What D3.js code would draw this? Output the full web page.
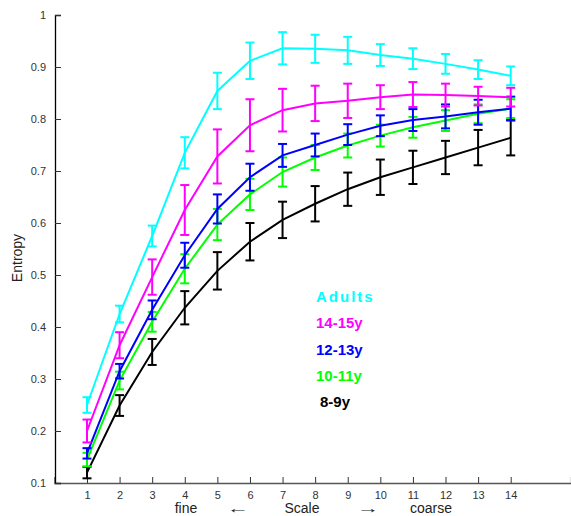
<!DOCTYPE html>
<html><head><meta charset="utf-8">
<script src="https://cdn.jsdelivr.net/npm/d3@7/dist/d3.min.js"></script>
<style>body{margin:0;background:#fff}svg{display:block}text{font-family:"Liberation Sans",Arial,sans-serif}</style>
</head><body><svg id="c" width="571" height="516"></svg>
<script>
const scales = [1,2,3,4,5,6,7,8,9,10,11,12,13,14];
const seriesNames = ["Adults","14-15y","12-13y","10-11y","8-9y"];
const seriesColors = ["#00ffff","#ff00ff","#0000ff","#00ff00","#000000"];
const adultsMean = [0.25,0.425,0.575,0.735,0.854,0.912,0.936,0.935,0.932,0.923,0.916,0.906,0.895,0.883];
const adultsErr  = [0.015,0.016,0.02,0.03,0.035,0.035,0.031,0.027,0.026,0.021,0.02,0.019,0.018,0.018];
const y1415Mean = [0.2,0.365,0.496,0.625,0.728,0.788,0.817,0.83,0.835,0.842,0.847,0.846,0.844,0.842];
const y1415Err  = [0.022,0.025,0.034,0.048,0.052,0.05,0.041,0.034,0.033,0.023,0.024,0.022,0.018,0.018];
const y1213Mean = [0.157,0.315,0.433,0.538,0.627,0.688,0.73,0.75,0.77,0.787,0.798,0.805,0.813,0.82];
const y1213Err  = [0.01,0.014,0.018,0.024,0.028,0.026,0.022,0.022,0.02,0.02,0.021,0.023,0.024,0.023];
const y1011Mean = [0.145,0.297,0.41,0.512,0.597,0.655,0.698,0.726,0.749,0.768,0.784,0.797,0.81,0.82];
const y1011Err  = [0.013,0.017,0.019,0.028,0.03,0.03,0.028,0.024,0.023,0.021,0.02,0.02,0.018,0.018];
const y89Mean = [0.12,0.249,0.352,0.437,0.508,0.564,0.606,0.637,0.665,0.688,0.707,0.726,0.745,0.764];
const y89Err  = [0.011,0.02,0.025,0.032,0.036,0.036,0.035,0.034,0.032,0.034,0.032,0.032,0.034,0.034];
const yTicks = [0.1,0.2,0.3,0.4,0.5,0.6,0.7,0.8,0.9,1];
const yTickLabels = ["0.1","0.2","0.3","0.4","0.5","0.6","0.7","0.8","0.9","1"];

const means = [adultsMean,y1415Mean,y1213Mean,y1011Mean,y89Mean];
const errs = [adultsErr,y1415Err,y1213Err,y1011Err,y89Err];

const svg = d3.select("#c");
const x = d3.scaleLinear().domain([0,15.85]).range([54.4,571]);
const y = d3.scaleLinear().domain([0.1,1]).range([483,15]);

// axes
const xAxis = d3.axisBottom(x).tickValues(scales).tickSize(-6).tickPadding(8).tickFormat(d3.format("d"));
const gx = svg.append("g").attr("transform","translate(0,483)").call(xAxis);
gx.select(".domain").attr("stroke","#555").attr("stroke-width",1.3);
gx.selectAll(".tick line").attr("stroke","#333");
gx.selectAll("text").attr("font-size",11).attr("fill","#333").attr("font-family","Liberation Sans, Arial, sans-serif");

const yAxis = d3.axisLeft(y).tickValues(yTicks).tickSize(-6).tickPadding(9).tickFormat((d,i)=>yTickLabels[i]);
const gy = svg.append("g").attr("transform","translate(55,0)").call(yAxis);
gy.select(".domain").attr("stroke","#000").attr("stroke-width",1.3);
gy.selectAll(".tick line").attr("stroke","#333");
gy.selectAll("text").attr("font-size",11).attr("fill","#333").attr("font-family","Liberation Sans, Arial, sans-serif");

// series, drawn from last to first
const line = d3.line().x((d,i)=>x(scales[i])).y(d=>y(d));
for (let s = seriesNames.length-1; s >= 0; s--) {
  const g = svg.append("g").attr("stroke",seriesColors[s]).attr("stroke-width",2).attr("fill","none");
  g.append("path").attr("d",line(means[s]));
  scales.forEach((sc,i)=>{
    const cx = x(sc), top = y(means[s][i]+errs[s][i]), bot = y(means[s][i]-errs[s][i]);
    g.append("line").attr("x1",cx).attr("x2",cx).attr("y1",top).attr("y2",bot);
    g.append("line").attr("x1",cx-4.5).attr("x2",cx+4.5).attr("y1",top).attr("y2",top);
    g.append("line").attr("x1",cx-4.5).attr("x2",cx+4.5).attr("y1",bot).attr("y2",bot);
  });
}

// legend
const legX = [316,316,316,316,320];
const legY = [297,323,350,376,402];
seriesNames.forEach((n,i)=>{
  svg.append("text").attr("x",legX[i]).attr("y",legY[i]).attr("dy","0.35em")
    .attr("font-size",15).attr("font-weight","bold").attr("fill",seriesColors[i])
    .attr("letter-spacing", i===0 ? "2px" : "0px").text(n);
});

// axis labels
svg.append("text").attr("transform","translate(22,258) rotate(-90)").attr("text-anchor","middle")
  .attr("font-size",14).attr("fill","#222").text("Entropy");
const xl = [["fine",186],["Scale",302],["coarse",431]];
xl.forEach(([t,px])=>{
  svg.append("text").attr("x",px).attr("y",513).attr("text-anchor","middle")
    .attr("font-size",14).attr("fill","#222").text(t);
});
const arrows = [["\u2190",238],["\u2192",368]];
arrows.forEach(([t,px])=>{
  svg.append("text").attr("transform",`translate(${px},513) scale(1.6,1)`).attr("text-anchor","middle")
    .attr("font-family","DejaVu Sans, sans-serif").attr("font-size",14).attr("fill","#222").text(t);
});
</script></body></html>
